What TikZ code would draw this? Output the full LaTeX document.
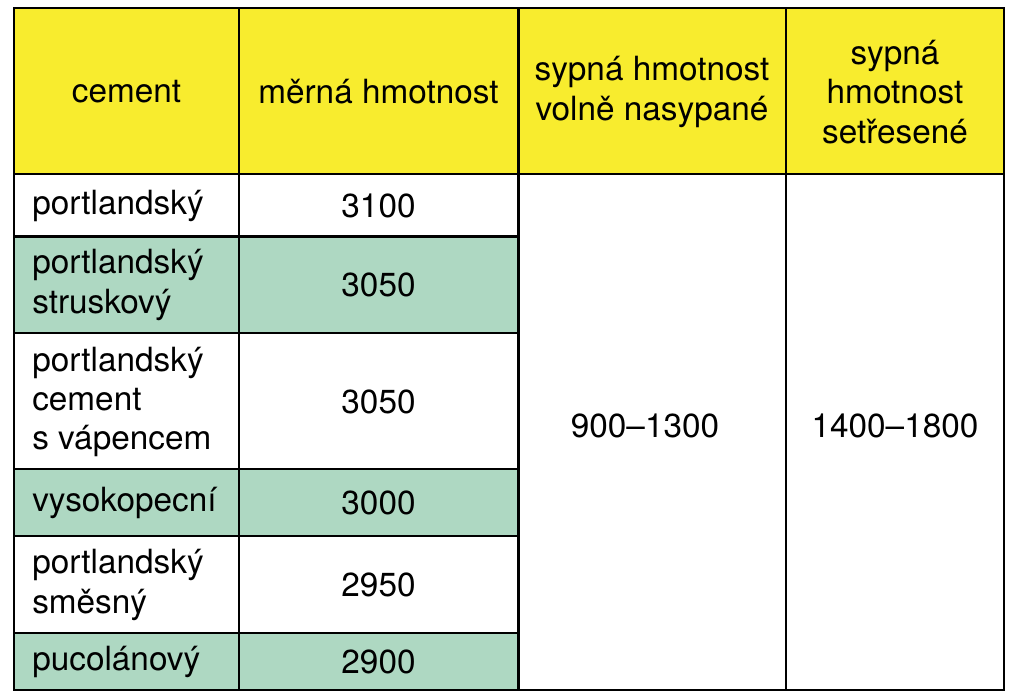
\documentclass[tikz,border=0pt]{standalone}
\usepackage{fontspec}
\setmainfont{TeX Gyre Heros}
\definecolor{headyellow}{RGB}{248,236,46}
\definecolor{rowgreen}{RGB}{174,216,194}
\tikzset{
 cell/.style={font=\fontsize{25}{29.6}\selectfont, inner sep=0pt},
 lefttext/.style={cell, anchor=west, align=left},
 midtext/.style={cell, align=center},
 rule/.style={black, line width=1.6pt},
}
\begin{document}
\begin{tikzpicture}[x=0.75pt,y=-0.75pt]
\useasboundingbox (0,0) rectangle (1024,699);
\fill[white] (0,0) rectangle (1024,699);
\fill[headyellow] (14,8) rectangle (1004,174);
\foreach \ya/\yb in {236.5/333, 469/536, 633/690} {
 \fill[rowgreen] (14,\ya) rectangle (518.5,\yb);
}
% rules
\foreach \y in {236.5, 333, 469, 536, 633} {
 \draw[rule] (14,\y) -- (518.5,\y);
}
\draw[rule] (14,174) -- (1004,174);
\foreach \x in {239, 518.5, 786} {
 \draw[rule] (\x,8) -- (\x,690);
}
\draw[rule] (14,8) rectangle (1004,690);
% header
\node[midtext] (hcement) at (126.5,92) {cement};
\node[midtext] (hmerna) at (378.5,92) {měrná hmotnost};
\node[midtext] (hvolne) at (652,92) {sypná hmotnost\\volně nasypané};
\node[midtext] (hsetres) at (895,92) {sypná\\hmotnost\\setřesené};
% rows
\foreach \y/\name/\val [count=\i] in {
 206/portlandský/3100,
 285/portlandský\\struskový/3050,
 402/portlandský\\cement\\s vápencem/3050,
 503/vysokopecní/3000,
 585/portlandský\\směsný/2950,
 662/pucolánový/2900} {
 \node[lefttext] (type\i) at (32,\y) {\name};
 \node[midtext] (dens\i) at (378.5,\y) {\val};
}
\node[midtext] (volne) at (645,426) {900–1300};
\node[midtext] (setres) at (895,426) {1400–1800};
\end{tikzpicture}
\end{document}
